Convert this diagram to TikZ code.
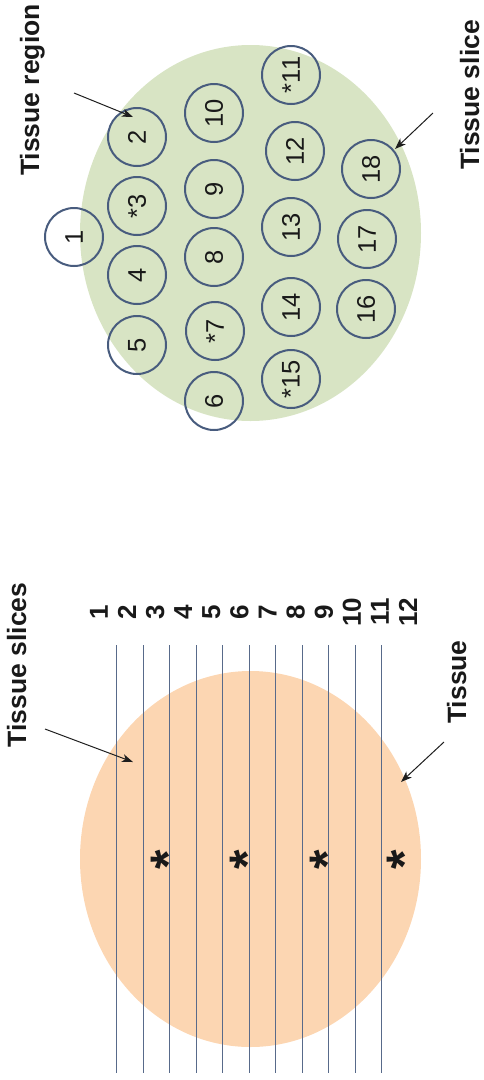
\documentclass[tikz,border=0pt]{standalone}
\usepackage{fontspec}
\setmainfont{Liberation Sans}
\usetikzlibrary{arrows.meta}
\definecolor{tgreen}{RGB}{216,228,196}
\definecolor{torange}{RGB}{252,214,178}
\definecolor{cstroke}{RGB}{72,92,126}
\definecolor{lstroke}{RGB}{88,106,138}
\definecolor{arr}{RGB}{30,30,30}
\begin{document}
\begin{tikzpicture}[x=1pt,y=-1pt,
  biglab/.style={font=\fontsize{26.5}{30}\selectfont\bfseries, rotate=90, inner sep=0pt, anchor=base, text=black!90},
  slicenum/.style={font=\fontsize{26}{30}\selectfont\bfseries, rotate=90, inner sep=0pt, text=black!90},
  star/.style={font=\fontsize{50}{52}\selectfont\bfseries, rotate=90, inner sep=0pt, text=black!90},
  region/.style={circle, draw=cstroke, line width=2pt, minimum size=58pt, inner sep=0pt, rotate=90,
    font=\fontsize{25.5}{28}\selectfont, text=black!90},
  pointer/.style={draw=arr, line width=1pt, -{Stealth[length=11pt,width=8pt,inset=3pt]}},
  sliceline/.style={draw=lstroke, line width=1pt}
]
\useasboundingbox (0,0) rectangle (484,1080);

% ---------- top panel ----------
\fill[tgreen] (250.5,233) ellipse [x radius=170.5, y radius=188];

\node[region] (c1)  at (74,237)  {1};
\node[region] (c2)  at (137,137) {2};
\node[region] (c3)  at (137,206) {*3};
\node[region] (c4)  at (137,275) {4};
\node[region] (c5)  at (137,345) {5};
\node[region] (c6)  at (214,401) {6};
\node[region] (c7)  at (215,331) {*7};
\node[region] (c8)  at (214,257) {8};
\node[region] (c9)  at (214,189) {9};
\node[region] (c10) at (214,113) {10};
\node[region] (c11) at (291,75)  {*11};
\node[region] (c12) at (295,151) {12};
\node[region] (c13) at (291,227) {13};
\node[region] (c14) at (291,307) {14};
\node[region] (c15) at (291,379) {*15};
\node[region] (c16) at (366,309) {16};
\node[region] (c17) at (367,239) {17};
\node[region] (c18) at (371,169) {18};

\node[biglab] (tregion) at (39,90) {Tissue region};
\node[biglab] (tslice) at (479,95) {Tissue slice};

\coordinate (r0) at (74,93);
\coordinate (r1) at (133,117);
\coordinate (s0) at (433,113);
\coordinate (s1) at (395,149);
\draw[pointer] (r0) -- (r1);
\draw[pointer] (s0) -- (s1);

% ---------- bottom panel ----------
\fill[torange] (250.5,859) ellipse [x radius=170.5, y radius=188];

\foreach \j in {1,...,11} {
  \draw[sliceline] ({116.7+26.5*(\j-1)},645) -- ({116.7+26.5*(\j-1)},1073);
}

\foreach \i in {1,...,12} {
  \node[slicenum] (n\i) at ({99+28.1*(\i-1)},612) {\i};
}

\node[star] (st1) at (168,860) {*};
\node[star] (st2) at (247,860) {*};
\node[star] (st3) at (327,860) {*};
\node[star] (st4) at (404,860) {*};

\node[biglab] (tslices) at (26,665) {Tissue slices};
\node[biglab] (tissue) at (466,682) {Tissue};

\coordinate (a0) at (45,729);
\coordinate (a1) at (133,762);
\coordinate (b0) at (444,742);
\coordinate (b1) at (401,782);
\draw[pointer] (a0) -- (a1);
\draw[pointer] (b0) -- (b1);
\end{tikzpicture}
\end{document}
